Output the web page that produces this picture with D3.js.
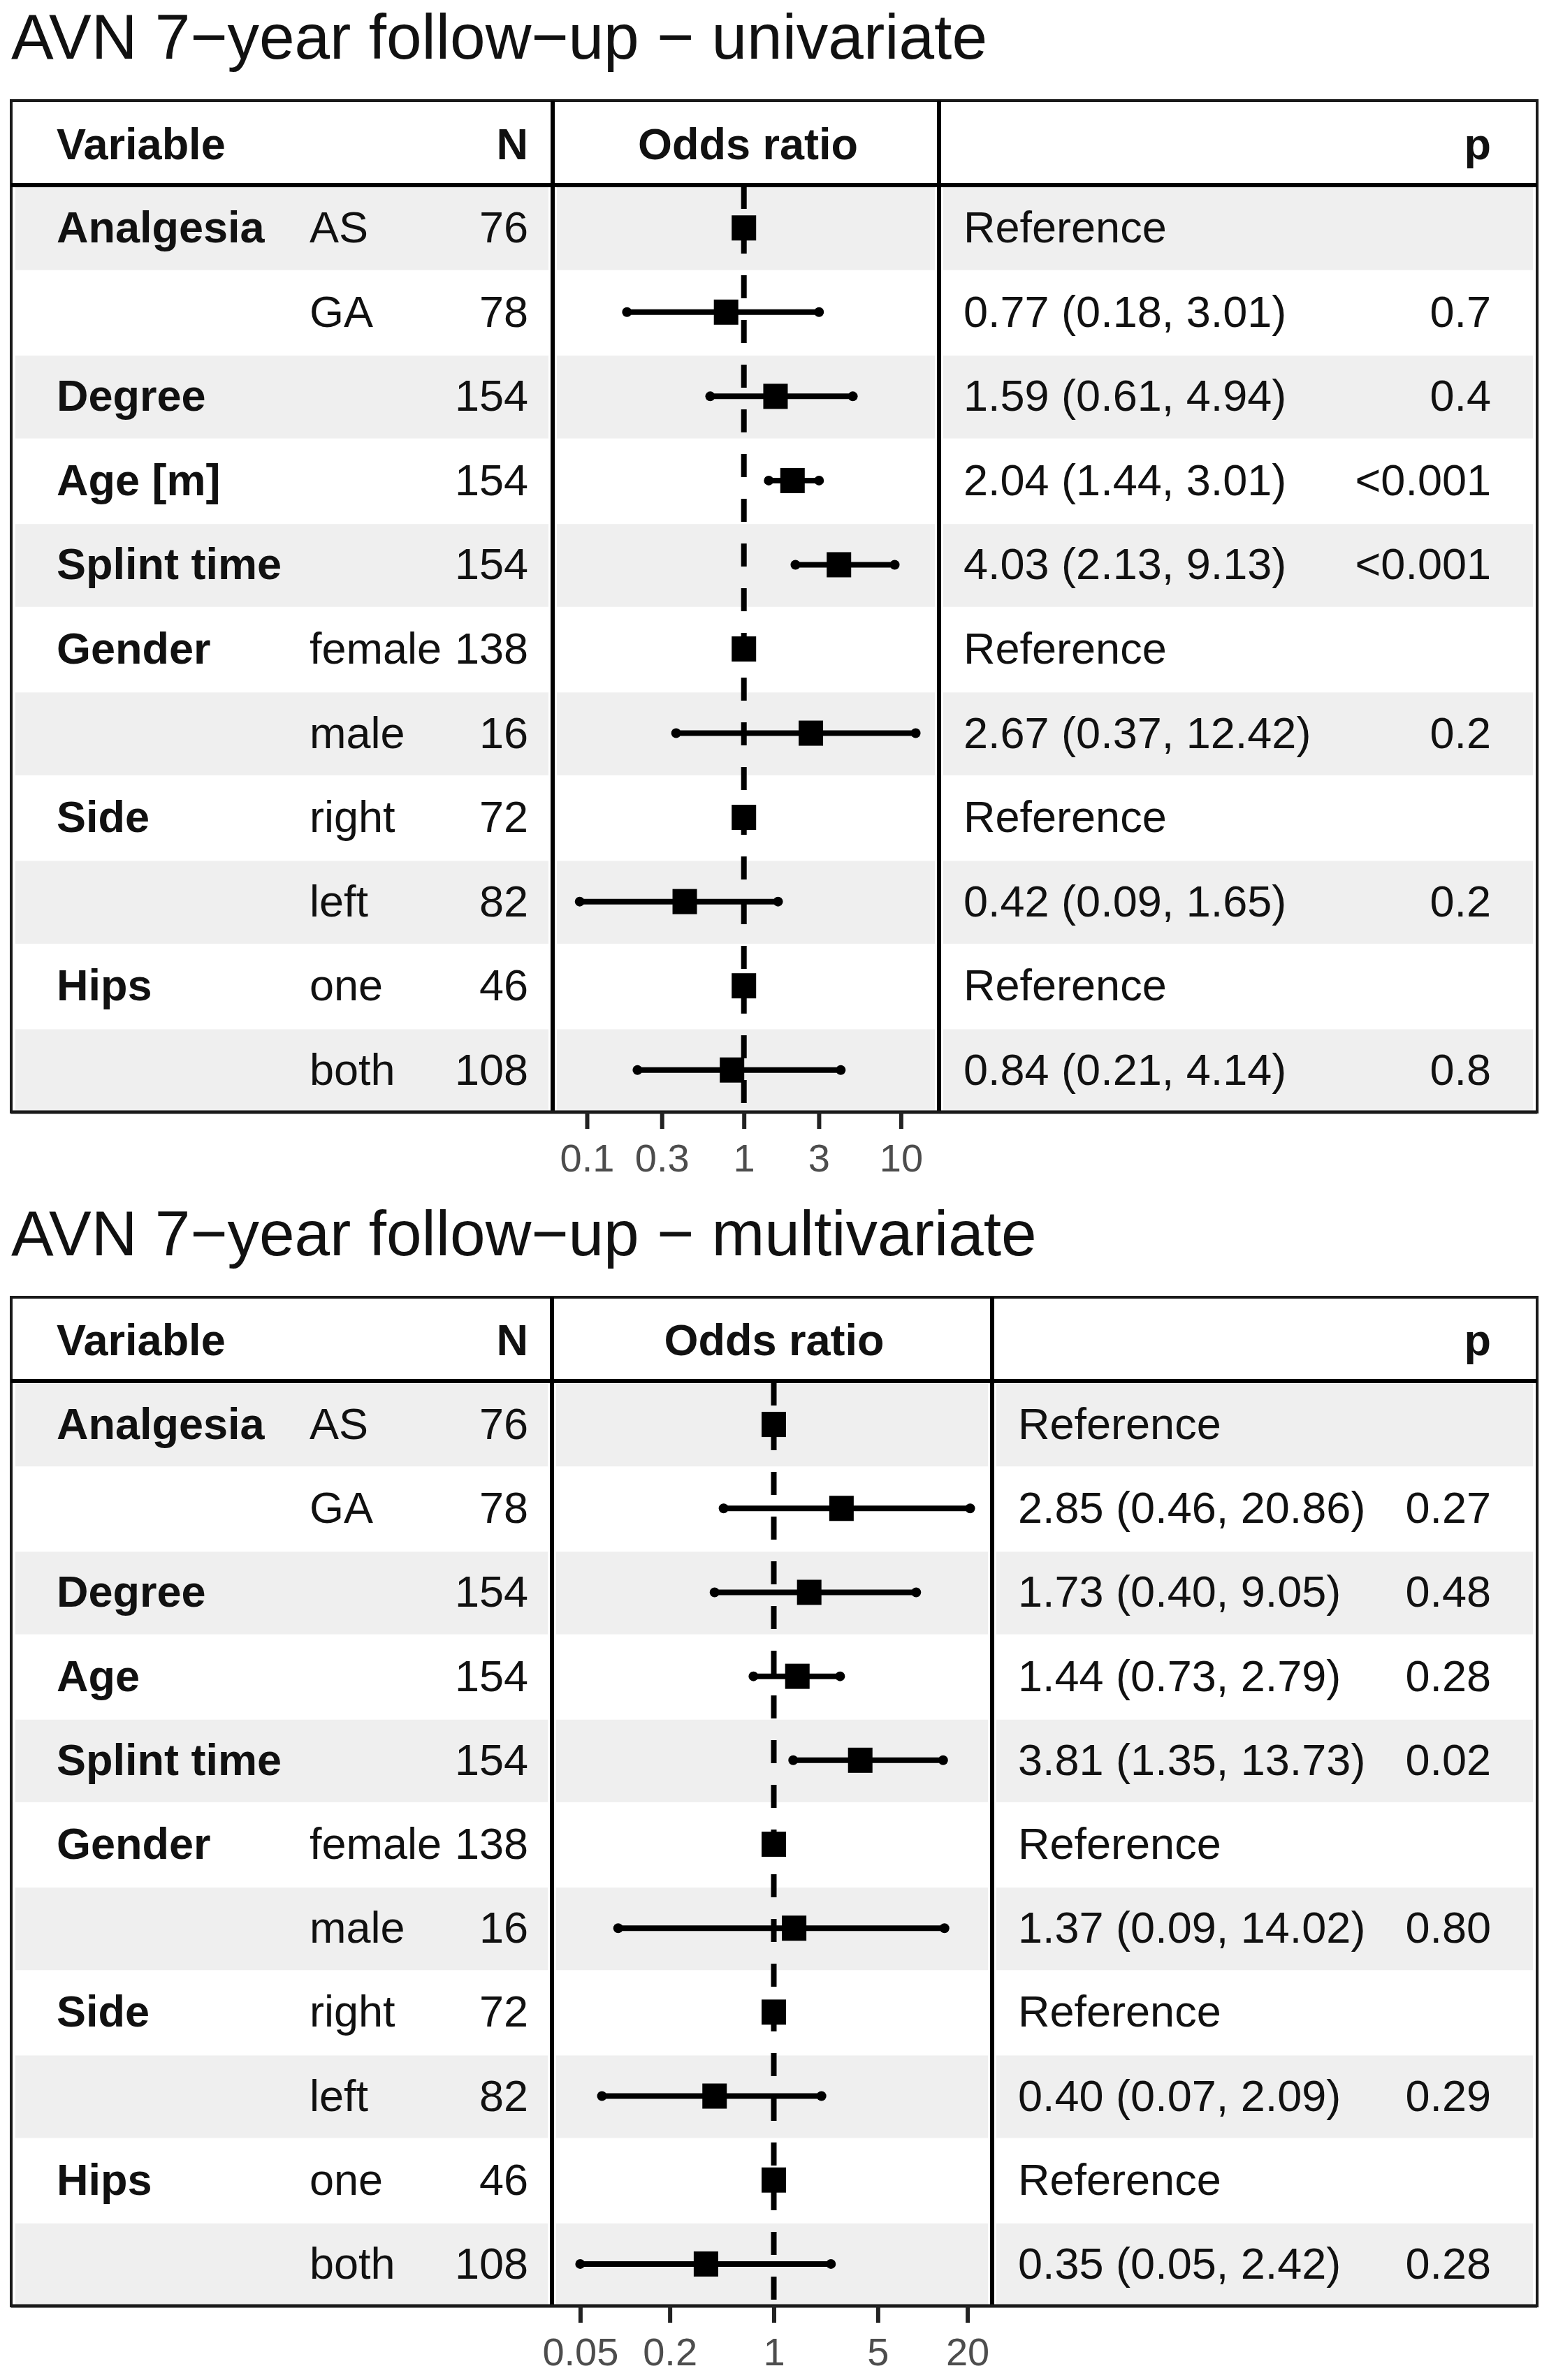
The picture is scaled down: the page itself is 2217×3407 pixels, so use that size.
<!DOCTYPE html>
<html>
<head>
<meta charset="utf-8">
<script src="https://cdn.jsdelivr.net/npm/d3@7"></script>
<style>
  html, body { margin: 0; padding: 0; background: #ffffff; }
  svg { display: block; }
</style>
</head>
<body>
<div id="chart"></div>
<script>
// ---------------- DATA ----------------
const titleUni = "AVN 7\u2212year follow\u2212up \u2212 univariate";
const titleMulti = "AVN 7\u2212year follow\u2212up \u2212 multivariate";

const headerVariable = "Variable";
const headerN = "N";
const headerOR = "Odds ratio";
const headerP = "p";

const variablesUni   = ["Analgesia", "", "Degree", "Age [m]", "Splint time", "Gender", "", "Side", "", "Hips", ""];
const variablesMulti = ["Analgesia", "", "Degree", "Age", "Splint time", "Gender", "", "Side", "", "Hips", ""];
const levels = ["AS", "GA", "", "", "", "female", "male", "right", "left", "one", "both"];
const counts = [76, 78, 154, 154, 154, 138, 16, 72, 82, 46, 108];

const orUni = [1, 0.77, 1.59, 2.04, 4.03, 1, 2.67, 1, 0.42, 1, 0.84];
const loUni = [null, 0.18, 0.61, 1.44, 2.13, null, 0.37, null, 0.09, null, 0.21];
const hiUni = [null, 3.01, 4.94, 3.01, 9.13, null, 12.42, null, 1.65, null, 4.14];
const pUni  = ["", "0.7", "0.4", "<0.001", "<0.001", "", "0.2", "", "0.2", "", "0.8"];

const orMulti = [1, 2.85, 1.73, 1.44, 3.81, 1, 1.37, 1, 0.40, 1, 0.35];
const loMulti = [null, 0.46, 0.40, 0.73, 1.35, null, 0.09, null, 0.07, null, 0.05];
const hiMulti = [null, 20.86, 9.05, 2.79, 13.73, null, 14.02, null, 2.09, null, 2.42];
const pMulti  = ["", "0.27", "0.48", "0.28", "0.02", "", "0.80", "", "0.29", "", "0.28"];

const ticksUni = [0.1, 0.3, 1, 3, 10];
const tickLabelsUni = ["0.1", "0.3", "1", "3", "10"];
const ticksMulti = [0.05, 0.2, 1, 5, 20];
const tickLabelsMulti = ["0.05", "0.2", "1", "5", "20"];

const referenceLabel = "Reference";

// ---------------- LAYOUT ----------------
const W = 2217, H = 3407;
const FONT = "'Liberation Sans', Arial, Helvetica, sans-serif";
const TEXT_SIZE = 63;
const TICK_SIZE = 56;
const TITLE_SIZE = 91;
const GREY_BAND = "#efefef";

const panels = [
  {
    title: titleUni, variables: variablesUni, or: orUni, lo: loUni, hi: hiUni, p: pUni,
    ticks: ticksUni, tickLabels: tickLabelsUni,
    titleY: 84, top: 144, headerBottom: 265, rowsTop: 266, rowsBottom: 1592,
    sep1: 791, sep2: 1344, domain: [0.1, 10], range: [840, 1289.4], orX: 1379
  },
  {
    title: titleMulti, variables: variablesMulti, or: orMulti, lo: loMulti, hi: hiMulti, p: pMulti,
    ticks: ticksMulti, tickLabels: tickLabelsMulti,
    titleY: 1797, top: 1857, headerBottom: 1977, rowsTop: 1979, rowsBottom: 3301,
    sep1: 790, sep2: 1420, domain: [0.05, 20], range: [830.4, 1384.6], orX: 1457
  }
];
const LEFT = 16, RIGHT = 2200;
const VAR_X = 81, LEVEL_X = 443, N_RIGHT = 756, P_RIGHT = 2134;

const svg = d3.select("#chart").append("svg")
  .attr("width", W).attr("height", H)
  .attr("viewBox", `0 0 ${W} ${H}`)
  .style("font-family", FONT);

svg.append("rect").attr("width", W).attr("height", H).attr("fill", "#ffffff");

function fmt(v) { return v.toFixed(2); }

panels.forEach((P, pi) => {
  const g = svg.append("g").attr("class", "panel-" + pi);
  const idx = d3.range(P.variables.length);
  const y = d3.scaleBand().domain(idx).range([P.rowsTop, P.rowsBottom]).padding(0);
  const x = d3.scaleLog().domain(P.domain).range(P.range);
  const rowC = i => y(i) + y.bandwidth() / 2;
  const base = i => rowC(i) + 21;

  // Title
  g.append("text")
    .attr("x", LEFT)
    .attr("y", P.titleY)
    .attr("font-size", TITLE_SIZE)
    .attr("fill", "#111")
    .text(P.title);

  // Grey bands (odd rows, 1-indexed)
  const inset = 6;
  const cols = [[LEFT, P.sep1], [P.sep1, P.sep2], [P.sep2, RIGHT]];
  const banded = idx.filter(i => i % 2 === 0);
  cols.forEach(([a, b]) => {
    g.append("g").selectAll("rect").data(banded).join("rect")
      .attr("x", a + inset)
      .attr("width", b - a - 2 * inset)
      .attr("y", i => y(i) + 2)
      .attr("height", y.bandwidth() - 2)
      .attr("fill", GREY_BAND);
  });

  // Reference dashed line at OR = 1
  g.append("line")
    .attr("x1", x(1)).attr("x2", x(1))
    .attr("y1", P.rowsTop).attr("y2", P.rowsBottom)
    .attr("stroke", "#000").attr("stroke-width", 8)
    .attr("stroke-dasharray", "33,31");

  // Error bars
  const withCI = idx.filter(i => P.lo[i] !== null);
  const eb = g.append("g").attr("class", "errorbars");
  eb.selectAll("line").data(withCI).join("line")
    .attr("x1", i => x(P.lo[i])).attr("x2", i => x(P.hi[i]))
    .attr("y1", i => rowC(i)).attr("y2", i => rowC(i))
    .attr("stroke", "#000").attr("stroke-width", 8).attr("stroke-linecap", "round");
  eb.selectAll("circle.lo").data(withCI).join("circle").attr("class", "lo")
    .attr("cx", i => x(P.lo[i])).attr("cy", i => rowC(i)).attr("r", 7).attr("fill", "#000");
  eb.selectAll("circle.hi").data(withCI).join("circle").attr("class", "hi")
    .attr("cx", i => x(P.hi[i])).attr("cy", i => rowC(i)).attr("r", 7).attr("fill", "#000");

  // Point estimates (squares)
  const sq = 35;
  g.append("g").selectAll("rect").data(idx).join("rect")
    .attr("x", i => x(P.or[i]) - sq / 2)
    .attr("y", i => rowC(i) - sq / 2 - 0.5)
    .attr("width", sq).attr("height", sq + 1)
    .attr("fill", "#000");

  // Header text
  const hdrBase = (P.top + P.headerBottom) / 2 + 23;
  g.append("text").attr("x", VAR_X).attr("y", hdrBase)
    .attr("font-size", TEXT_SIZE).attr("font-weight", "bold").attr("fill", "#111").text(headerVariable);
  g.append("text").attr("x", N_RIGHT).attr("y", hdrBase).attr("text-anchor", "end")
    .attr("font-size", TEXT_SIZE).attr("font-weight", "bold").attr("fill", "#111").text(headerN);
  g.append("text").attr("x", (P.sep1 + P.sep2) / 2 + 3).attr("y", hdrBase).attr("text-anchor", "middle")
    .attr("font-size", TEXT_SIZE).attr("font-weight", "bold").attr("fill", "#111").text(headerOR);
  g.append("text").attr("x", P_RIGHT).attr("y", hdrBase).attr("text-anchor", "end")
    .attr("font-size", TEXT_SIZE).attr("font-weight", "bold").attr("fill", "#111").text(headerP);

  // Row texts
  const tg = g.append("g").attr("font-size", TEXT_SIZE).attr("fill", "#111");
  tg.selectAll("text.var").data(idx.filter(i => P.variables[i] !== "")).join("text").attr("class", "var")
    .attr("x", VAR_X).attr("y", base).attr("font-weight", "bold").text(i => P.variables[i]);
  tg.selectAll("text.lvl").data(idx.filter(i => levels[i] !== "")).join("text").attr("class", "lvl")
    .attr("x", LEVEL_X).attr("y", base).text(i => levels[i]);
  tg.selectAll("text.n").data(idx).join("text").attr("class", "n")
    .attr("x", N_RIGHT).attr("y", base).attr("text-anchor", "end").text(i => counts[i]);
  tg.selectAll("text.est").data(idx).join("text").attr("class", "est")
    .attr("x", P.orX).attr("y", base)
    .text(i => P.lo[i] === null ? referenceLabel : `${fmt(P.or[i])} (${fmt(P.lo[i])}, ${fmt(P.hi[i])})`);
  tg.selectAll("text.p").data(idx.filter(i => P.p[i] !== "")).join("text").attr("class", "p")
    .attr("x", P_RIGHT).attr("y", base).attr("text-anchor", "end").text(i => P.p[i]);

  // Table lines
  g.append("rect")
    .attr("x", LEFT).attr("y", P.top)
    .attr("width", RIGHT - LEFT).attr("height", P.rowsBottom - P.top)
    .attr("fill", "none").attr("stroke", "#1a1a1a").attr("stroke-width", 4);
  g.append("line").attr("x1", LEFT).attr("x2", RIGHT)
    .attr("y1", P.headerBottom).attr("y2", P.headerBottom)
    .attr("stroke", "#000").attr("stroke-width", 6);
  [P.sep1, P.sep2].forEach(sx => {
    g.append("line").attr("x1", sx).attr("x2", sx)
      .attr("y1", P.top).attr("y2", P.rowsBottom)
      .attr("stroke", "#000").attr("stroke-width", 6);
  });
  g.append("line").attr("x1", LEFT).attr("x2", RIGHT)
    .attr("y1", P.rowsBottom).attr("y2", P.rowsBottom)
    .attr("stroke", "#1a1a1a").attr("stroke-width", 5);

  // Axis
  const axis = d3.axisBottom(x)
    .tickValues(P.ticks)
    .tickFormat((d, i) => P.tickLabels[i])
    .tickSize(24).tickSizeOuter(0).tickPadding(21);
  const ag = g.append("g")
    .attr("transform", `translate(0,${P.rowsBottom})`)
    .call(axis);
  ag.select(".domain").remove();
  ag.attr("font-family", FONT).attr("font-size", TICK_SIZE);
  ag.selectAll(".tick line").attr("stroke", "#222").attr("stroke-width", 6);
  ag.selectAll(".tick text").attr("fill", "#4d4d4d").attr("font-size", TICK_SIZE);
});
</script>
</body>
</html>
